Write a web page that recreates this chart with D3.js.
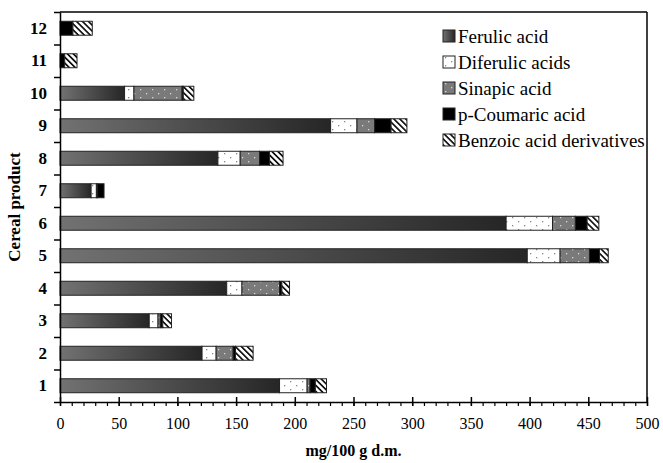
<!DOCTYPE html>
<html>
<head>
<meta charset="utf-8">
<script src="https://cdn.jsdelivr.net/npm/d3@7"></script>
<style>
  body { margin: 0; background: #fff; }
  svg { display: block; }
</style>
</head>
<body>
<div id="chart"></div>
<script>
// values (mg/100 g d.m.), products 1..12
var products = ["1", "2", "3", "4", "5", "6", "7", "8", "9", "10", "11", "12"];
var series_names = ["Ferulic acid", "Diferulic acids", "Sinapic acid", "p-Coumaric acid", "Benzoic acid derivatives"];
var ferulic   = [187, 121, 76, 142, 398, 380, 26.5, 134.5, 230.5, 55, 0, 0];
var diferulic = [23.5, 12, 7.5, 13, 28, 39.5, 4.5, 19, 22.5, 8, 0, 0];
var sinapic   = [2.5, 14.5, 2, 32, 25, 19.5, 1, 16.5, 15, 41, 0, 0];
var coumaric  = [4.5, 2, 2, 2, 8.5, 10, 5.5, 8.5, 14, 1, 4, 11];
var benzoic   = [9.5, 15, 7.5, 6.5, 7.5, 10, 0, 11.5, 13.5, 9, 10.5, 16.5];
var x_ticks = [0, 50, 100, 150, 200, 250, 300, 350, 400, 450, 500];

var keys = ["ferulic", "diferulic", "sinapic", "coumaric", "benzoic"];
var fills = ["url(#grad_ferulic)", "url(#pat_diferulic)", "url(#pat_sinapic)", "#000", "url(#pat_benzoic)"];
var serif = "'Liberation Serif', 'Times New Roman', serif";

var rows = products.map(function(p, i) {
	return {
		product: p,
		ferulic: ferulic[i],
		diferulic: diferulic[i],
		sinapic: sinapic[i],
		coumaric: coumaric[i],
		benzoic: benzoic[i]
	};
});

var margin = {top: 12, right: 16, bottom: 61, left: 60},
	width = 663 - margin.left - margin.right,
	height = 463 - margin.top - margin.bottom;

var svg_root = d3.select("#chart").append("svg")
	.attr("width", 663)
	.attr("height", 463);

// fills
var defs = svg_root.append("defs");

var grad = defs.append("linearGradient")
	.attr("id", "grad_ferulic")
	.attr("x1", "0").attr("x2", "1").attr("y1", "0").attr("y2", "0");
grad.append("stop").attr("offset", "0%").attr("stop-color", "#727272");
grad.append("stop").attr("offset", "100%").attr("stop-color", "#262626");

var p1 = defs.append("pattern")
	.attr("id", "pat_diferulic")
	.attr("patternUnits", "userSpaceOnUse")
	.attr("width", 12).attr("height", 8);
p1.append("rect").attr("width", 12).attr("height", 8).attr("fill", "#fff");
p1.append("rect").attr("x", 2).attr("y", 1).attr("width", 1.3).attr("height", 1.3).attr("fill", "#888");
p1.append("rect").attr("x", 8).attr("y", 5).attr("width", 1.3).attr("height", 1.3).attr("fill", "#888");

var p2 = defs.append("pattern")
	.attr("id", "pat_sinapic")
	.attr("patternUnits", "userSpaceOnUse")
	.attr("width", 12).attr("height", 8);
p2.append("rect").attr("width", 12).attr("height", 8).attr("fill", "#7a7a7a");
p2.append("rect").attr("x", 2).attr("y", 1).attr("width", 1.3).attr("height", 1.3).attr("fill", "#d8d8d8");
p2.append("rect").attr("x", 8).attr("y", 5).attr("width", 1.3).attr("height", 1.3).attr("fill", "#d8d8d8");

var p3 = defs.append("pattern")
	.attr("id", "pat_benzoic")
	.attr("patternUnits", "userSpaceOnUse")
	.attr("width", 4.2).attr("height", 4.2)
	.attr("patternTransform", "rotate(-45)");
p3.append("rect").attr("width", 4.2).attr("height", 4.2).attr("fill", "#fff");
p3.append("rect").attr("x", 0).attr("width", 1.7).attr("height", 4.2).attr("fill", "#111");

var svg = svg_root.append("g")
	.attr("transform", "translate(" + margin.left + "," + margin.top + ")");

// scales
var x_scale = d3.scaleLinear().domain([0, 500]).range([0, width]);
var y_scale = d3.scaleBand()
	.domain(products.slice().reverse())
	.range([0, height])
	.paddingInner(0.57)
	.paddingOuter(0.285);
var y_edges = d3.scaleLinear().domain([0, products.length]).range([height, 0]);

var stacked = d3.stack().keys(keys)(rows);

// bars
var layer = svg.append("g").attr("class", "bars")
	.selectAll("g")
	.data(stacked)
	.enter().append("g")
	.attr("fill", function(d, i) { return fills[i]; });

layer.selectAll("rect")
	.data(function(d) { return d.filter(function(s) { return s[1] - s[0] > 0; }); })
	.enter().append("rect")
	.attr("x", function(d) { return x_scale(d[0]); })
	.attr("y", function(d) { return y_scale(d.data.product); })
	.attr("width", function(d) { return x_scale(d[1]) - x_scale(d[0]); })
	.attr("height", y_scale.bandwidth())
	.attr("stroke", "#222")
	.attr("stroke-width", 1);

// frame top + right
svg.append("line")
	.attr("x1", 0).attr("x2", width).attr("y1", 0).attr("y2", 0)
	.attr("stroke", "#000").attr("stroke-width", 1.5);
svg.append("line")
	.attr("x1", width).attr("x2", width).attr("y1", 0).attr("y2", height)
	.attr("stroke", "#000").attr("stroke-width", 1.5);

// x axis: minor ticks every 10 below, major every 50 crossing
var x_minor = svg.append("g")
	.attr("transform", "translate(0," + height + ")")
	.call(d3.axisBottom(x_scale).tickValues(d3.range(0, 501, 10)).tickSize(4).tickFormat(""));
x_minor.select(".domain").remove();

var x_axis = svg.append("g")
	.attr("class", "x axis")
	.attr("transform", "translate(0," + height + ")")
	.call(d3.axisBottom(x_scale).tickValues(x_ticks).tickSize(4).tickSizeOuter(0).tickPadding(12));
x_axis.selectAll(".tick line").attr("y1", -5);
x_axis.selectAll("line, path").attr("stroke", "#000").attr("stroke-width", 1.5);
x_minor.selectAll("line").attr("stroke", "#000").attr("stroke-width", 1.2);
x_axis.selectAll("text")
	.style("font-family", serif)
	.style("font-size", "16px")
	.attr("fill", "#000");

// y axis: ticks on band edges, labels on band centres
var y_tick_axis = svg.append("g")
	.call(d3.axisLeft(y_edges).tickValues(d3.range(0, products.length + 1)).tickSize(6).tickSizeOuter(0).tickFormat(""));
y_tick_axis.selectAll("line, path").attr("stroke", "#000").attr("stroke-width", 1.5);

var y_axis = svg.append("g")
	.call(d3.axisLeft(y_scale).tickSize(0).tickPadding(13));
y_axis.select(".domain").remove();
y_axis.selectAll("text")
	.style("font-family", serif)
	.style("font-size", "17px")
	.style("font-weight", "bold")
	.attr("fill", "#000");

// axis titles
svg.append("text")
	.attr("x", width / 2)
	.attr("y", height + 54)
	.attr("text-anchor", "middle")
	.style("font-family", serif)
	.style("font-size", "16px")
	.style("font-weight", "bold")
	.text("mg/100 g d.m.");

svg.append("text")
	.attr("transform", "translate(" + (-40) + "," + (height / 2) + ") rotate(-90)")
	.attr("text-anchor", "middle")
	.style("font-family", serif)
	.style("font-size", "17px")
	.style("font-weight", "bold")
	.text("Cereal product");

// legend
var legend = svg.append("g")
	.attr("class", "legend")
	.attr("transform", "translate(383,18)")
	.selectAll("g")
	.data(series_names)
	.enter().append("g")
	.attr("transform", function(d, i) { return "translate(0," + (i * 26) + ")"; });

legend.append("rect")
	.attr("width", 12)
	.attr("height", 12)
	.attr("fill", function(d, i) { return fills[i]; })
	.attr("stroke", "#222")
	.attr("stroke-width", 1);

legend.append("text")
	.attr("x", 15)
	.attr("y", 6)
	.attr("dy", "0.35em")
	.style("font-family", serif)
	.style("font-size", "19px")
	.text(function(d) { return d; });
</script>
</body>
</html>
